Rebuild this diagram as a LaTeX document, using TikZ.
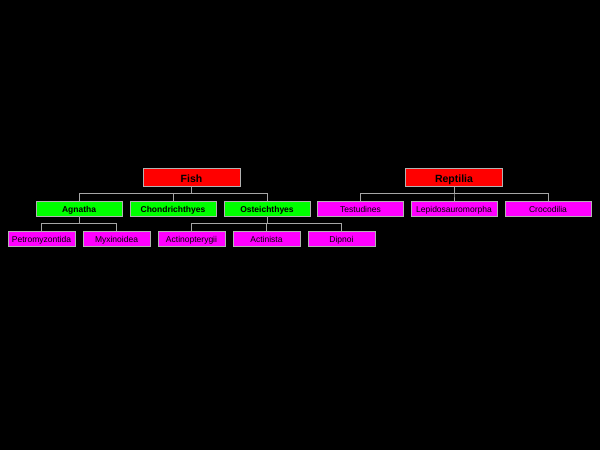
\documentclass[tikz,border=0pt]{standalone}
\usepackage{fontspec}
\setmainfont{Liberation Sans}
\usetikzlibrary{positioning}
\definecolor{rootred}{RGB}{255,0,0}
\definecolor{classgreen}{RGB}{0,255,0}
\definecolor{ordermagenta}{RGB}{255,0,255}
\tikzset{
  rootbox/.style={rectangle, fill=rootred, draw=gray!60, line width=0.6pt, minimum width=97pt, minimum height=18pt, inner sep=0pt, text height=10pt, text depth=1pt, font=\fontsize{10.5}{12}\selectfont\bfseries},
  classbox/.style={rectangle, fill=classgreen, draw=gray!60, line width=0.6pt, minimum width=86pt, minimum height=15pt, inner sep=0pt, text height=9pt, text depth=1pt, font=\fontsize{8.5}{10}\selectfont\bfseries},
  orderbox/.style={rectangle, fill=ordermagenta, draw=gray!60, line width=0.6pt, minimum width=86pt, minimum height=15pt, inner sep=0pt, text height=9pt, text depth=1pt, font=\fontsize{8.5}{10}\selectfont},
  leafbox/.style={orderbox, minimum width=67pt},
  tree/.style={draw=gray!70, line width=0.8pt}
}
\begin{document}
\begin{tikzpicture}[x=1pt,y=-1pt]
		\fill[black] (0,0) rectangle (600,450);
		\useasboundingbox (0,0) rectangle (600,450);
		% fish
		\node[rootbox] (Fish) at (191.5,177.5) {Fish};
		\node[classbox] (Agnatha) at (79,208.5) {Agnatha};
		\node[classbox] (Chondrichthyes) at (173,208.5) {Chondrichthyes};
		\node[classbox] (Osteichthyes) at (267,208.5) {Osteichthyes};
		\node[leafbox] (Petromyzontida) at (41.5,238.5) {Petromyzontida};
		\node[leafbox] (Myxinoidea) at (116.5,238.5) {Myxinoidea};
		\node[leafbox] (Actinopterygii) at (191.5,238.5) {Actinopterygii};
		\node[leafbox] (Actinista) at (266.5,238.5) {Actinista};
		\node[leafbox] (Dipnoi) at (341.5,238.5) {Dipnoi};
		% reptiles
		\node[rootbox] (Reptilia) at (454,177.5) {Reptilia};
		\node[orderbox] (Testudines) at (360.5,208.5) {Testudines};
		\node[orderbox] (Lepidosauromorpha) at (454,208.5) {Lepidosauromorpha};
		\node[orderbox] (Crocodilia) at (548,208.5) {Crocodilia};
		% connectors
		\foreach \kid in {Agnatha,Chondrichthyes,Osteichthyes}
			\path[tree] (Fish.south) -- +(0,7) -| (\kid.north);
		\foreach \kid in {Testudines,Lepidosauromorpha,Crocodilia}
			\path[tree] (Reptilia.south) -- +(0,7) -| (\kid.north);
		\foreach \kid in {Petromyzontida,Myxinoidea}
			\path[tree] (Agnatha.south) -- +(0,7.5) -| (\kid.north);
		\foreach \kid in {Actinopterygii,Actinista,Dipnoi}
			\path[tree] (Osteichthyes.south) -- +(0,7.5) -| (\kid.north);
	\end{tikzpicture}
\end{document}
